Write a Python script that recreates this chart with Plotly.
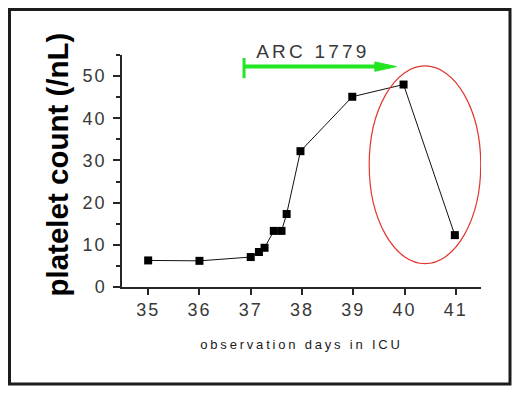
import plotly.graph_objects as go

# ---- data ----
days = [35.0, 36.0, 37.0, 37.16, 37.27, 37.45, 37.6, 37.7, 37.97, 38.98, 39.98, 40.98]
platelets = [6.3, 6.2, 7.1, 8.3, 9.3, 13.3, 13.3, 17.3, 32.2, 45.1, 48.0, 12.3]
x_ticks = [35, 36, 37, 38, 39, 40, 41]
y_ticks = [0, 10, 20, 30, 40, 50]
x_title = "observation days in ICU"
y_title = "platelet count (/nL)"

# treatment period marker (ARC 1779), in data units
arc_label = "ARC 1779"
arc_start_day = 36.87
arc_end_day = 39.84
arc_level = 52.25

# highlighted region (red ellipse), in data units
ell_x = [39.31, 41.485]
ell_y = [5.55, 52.4]

# ---- layout geometry ----
W, H = 520, 393
ML, MR, MT, MB = 122, 39, 55, 106
XR = [34.49, 41.49]
YR = [0, 55]
PW, PH = W - ML - MR, H - MT - MB


def px_to_paper_x(px):
    return (px - ML) / PW


def px_to_paper_y(py):
    return (H - MB - py) / PH


INK = "#262626"
GREEN = "#22e622"
RED = "#e2372f"
LABEL = "#383838"
FONT = "Liberation Sans, Arial, sans-serif"

fig = go.Figure()
fig.add_trace(go.Scatter(
    x=days, y=platelets, mode="lines+markers",
    line=dict(color="#111111", width=1),
    marker=dict(symbol="square", size=8, color="#000000"),
    showlegend=False, hoverinfo="skip",
))

shapes = []
# outer frame
shapes.append(dict(type="rect", xref="paper", yref="paper",
                   x0=px_to_paper_x(9.5), x1=px_to_paper_x(510),
                   y0=px_to_paper_y(384), y1=px_to_paper_y(9.5),
                   line=dict(color="#1c1c1c", width=3)))
# x-axis line extension to the left of the y axis
shapes.append(dict(type="line", xref="paper", yref="paper",
                   x0=px_to_paper_x(113), x1=0, y0=0, y1=0,
                   line=dict(color=INK, width=1.5)))
# green arrow: shaft, start bar, head
head_len = 0.42
head_half = 1.1
shapes.append(dict(type="line", xref="x", yref="y",
                   x0=arc_start_day, x1=arc_end_day - head_len + 0.05,
                   y0=arc_level, y1=arc_level,
                   line=dict(color=GREEN, width=4)))
shapes.append(dict(type="line", xref="x", yref="y",
                   x0=arc_start_day, x1=arc_start_day,
                   y0=arc_level - 2.75, y1=arc_level + 2.05,
                   line=dict(color=GREEN, width=3)))
shapes.append(dict(type="path", xref="x", yref="y",
                   path=(f"M {arc_end_day - head_len},{arc_level - head_half} "
                         f"L {arc_end_day},{arc_level} "
                         f"L {arc_end_day - head_len},{arc_level + head_half} Z"),
                   fillcolor=GREEN, line=dict(color=GREEN, width=1)))
# red ellipse
shapes.append(dict(type="circle", xref="x", yref="y",
                   x0=ell_x[0], x1=ell_x[1], y0=ell_y[0], y1=ell_y[1],
                   line=dict(color=RED, width=1.2)))

annotations = [
    dict(text=arc_label, xref="x", yref="paper",
         x=(arc_start_day + arc_end_day) / 2 - 0.15, y=px_to_paper_y(52),
         xanchor="center", yanchor="middle", showarrow=False,
         font=dict(family=FONT, size=19, color=LABEL)),
    dict(text=y_title, xref="paper", yref="paper",
         x=px_to_paper_x(57), y=px_to_paper_y(164.5), textangle=-90,
         xanchor="center", yanchor="middle", showarrow=False,
         font=dict(family=FONT, size=29.5, color="#000000", weight="bold")),
]

fig.update_layout(
    width=W, height=H, autosize=False,
    margin=dict(l=ML, r=MR, t=MT, b=MB, pad=0),
    paper_bgcolor="white", plot_bgcolor="white",
    font=dict(family=FONT, color=LABEL),
    shapes=shapes, annotations=annotations,
    xaxis=dict(
        range=XR, tickvals=x_ticks, ticktext=[str(v) for v in x_ticks],
        showgrid=False, zeroline=False,
        showline=True, linecolor=INK, linewidth=1.5,
        ticks="outside", ticklen=6, tickwidth=1.5, tickcolor=INK,
        tickfont=dict(family=FONT, size=18, color=LABEL),
        title=dict(text=x_title, standoff=21,
                   font=dict(family=FONT, size=13, color="#1a1a1a")),
    ),
    yaxis=dict(
        range=YR, tickvals=y_ticks, ticktext=[str(v) for v in y_ticks],
        showgrid=False, zeroline=False,
        showline=True, linecolor=INK, linewidth=1.5,
        ticks="outside", ticklen=7, tickwidth=1.5, tickcolor=INK,
        minor=dict(dtick=5, tick0=0, ticks="outside", ticklen=4,
                   tickwidth=1.5, tickcolor=INK, showgrid=False),
        tickfont=dict(family=FONT, size=18, color=LABEL),
        ticklabelstandoff=3,
    ),
)

post = """
document.body.style.margin = '0';
document.body.style.padding = '0';
var gd = document.getElementById('{plot_id}');
gd.querySelectorAll('.xtick text, .ytick text').forEach(function(t){ t.style.letterSpacing = '2px'; });
gd.querySelectorAll('.g-xtitle text').forEach(function(t){ t.style.letterSpacing = '2.8px'; });
gd.querySelectorAll('.annotation-text').forEach(function(t){
  if (t.textContent.indexOf('ARC') === 0) { t.style.letterSpacing = '3.2px'; }
});
"""

fig.write_html("out.html", post_script=post, config={"displayModeBar": False})
